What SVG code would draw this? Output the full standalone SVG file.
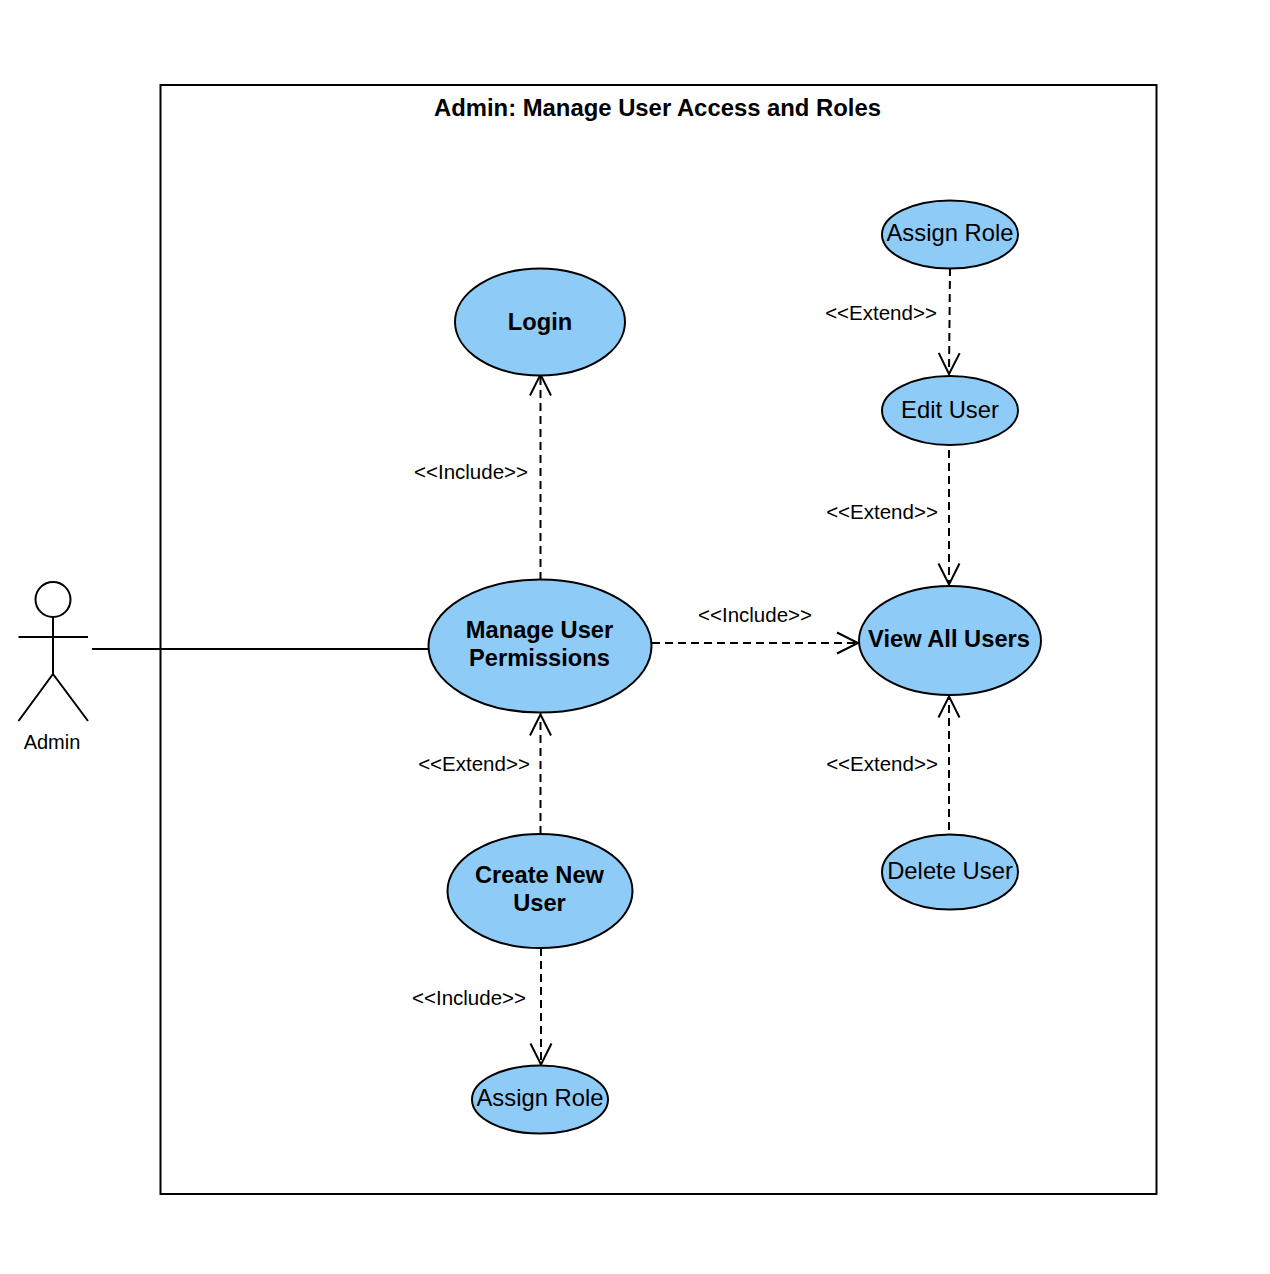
<svg xmlns="http://www.w3.org/2000/svg" width="1270" height="1274" viewBox="0 0 1270 1274">
<style>
text{font-family:"Liberation Sans",Arial,sans-serif;fill:#000;text-anchor:middle}
.uc{fill:#8ecbf7;stroke:#000;stroke-width:2}
.t{font-size:23.800px}
.b{font-size:23.700px;font-weight:bold}
.l{font-size:20.500px}
.d{fill:none;stroke:#000;stroke-width:2;stroke-dasharray:8 5}
.s{fill:none;stroke:#000;stroke-width:2}
</style>
<defs><marker id="a" markerUnits="userSpaceOnUse" markerWidth="26" markerHeight="26" refX="23" refY="13" orient="auto"><path d="M2 2.500L23 13L2 23.500" fill="none" stroke="#000" stroke-width="2"/></marker></defs>
<rect width="1270" height="1274" fill="#fff"/>
<g id="system"><rect x="160.500" y="85" width="996" height="1109" fill="#fff" stroke="#000" stroke-width="2"/><text x="657.500" y="116" style="font-size:23.850px;font-weight:bold">Admin: Manage User Access and Roles</text></g>
<g id="connectors">
<path class="s" d="M92 649H429"/>
<path class="d" marker-end="url(#a)" d="M540.500 580V374.500"/>
<path class="d" marker-end="url(#a)" d="M652 643H858"/>
<path class="d" marker-end="url(#a)" d="M540.500 834V714.500"/>
<path class="d" marker-end="url(#a)" d="M541 948V1064.500"/>
<path class="d" marker-end="url(#a)" d="M950 268L949 374"/>
<path class="d" marker-end="url(#a)" d="M949 450V584.500"/>
<path class="d" marker-end="url(#a)" d="M949 830V696.500"/>
<text class="l" x="471" y="479">&lt;&lt;Include&gt;&gt;</text>
<text class="l" x="755" y="622">&lt;&lt;Include&gt;&gt;</text>
<text class="l" x="474" y="771">&lt;&lt;Extend&gt;&gt;</text>
<text class="l" x="469" y="1005">&lt;&lt;Include&gt;&gt;</text>
<text class="l" x="881" y="320">&lt;&lt;Extend&gt;&gt;</text>
<text class="l" x="882" y="519">&lt;&lt;Extend&gt;&gt;</text>
<text class="l" x="882" y="771">&lt;&lt;Extend&gt;&gt;</text>
</g>
<g id="actor-admin" class="s"><circle cx="53" cy="599.500" r="17.500"/><path d="M53 617V674M18.500 637H88M53 674L18.500 721M53 674L88 721"/><text x="52" y="749" style="stroke:none;font-size:20px">Admin</text></g>
<g id="uc-login"><ellipse class="uc" cx="540" cy="322" rx="85" ry="53.500"/><text class="b" x="540" y="330">Login</text></g>
<g id="uc-manage"><ellipse class="uc" cx="540" cy="646" rx="111.500" ry="66.500"/><text class="b" x="539.500" y="638">Manage User</text><text class="b" x="539.500" y="666">Permissions</text></g>
<g id="uc-create"><ellipse class="uc" cx="540" cy="891" rx="92.500" ry="57"/><text class="b" x="539.500" y="883">Create New</text><text class="b" x="539.500" y="911">User</text></g>
<g id="uc-assign-bottom"><ellipse class="uc" cx="540" cy="1099.500" rx="68" ry="34"/><text class="t" x="540" y="1106">Assign Role</text></g>
<g id="uc-assign-top"><ellipse class="uc" cx="950" cy="234.500" rx="68" ry="34"/><text class="t" x="950" y="241">Assign Role</text></g>
<g id="uc-edit"><ellipse class="uc" cx="950" cy="410.500" rx="68" ry="34.500"/><text class="t" x="950" y="418">Edit User</text></g>
<g id="uc-view"><ellipse class="uc" cx="950" cy="640.500" rx="91" ry="54.500"/><text class="b" x="949" y="647">View All Users</text></g>
<g id="uc-delete"><ellipse class="uc" cx="950" cy="872" rx="68" ry="37.500"/><text class="t" x="950" y="879">Delete User</text></g>
</svg>
